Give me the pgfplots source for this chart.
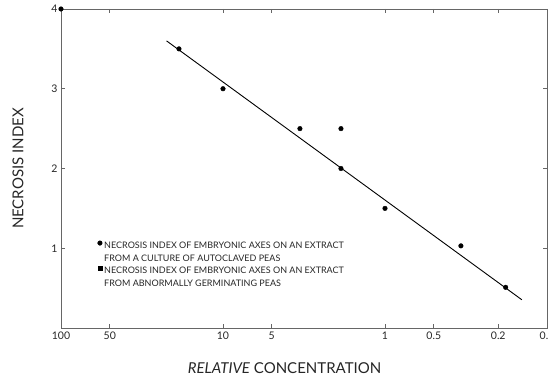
\documentclass[border=0pt]{standalone}
\usepackage{pgfplots}
\pgfplotsset{compat=1.18}
\usepackage{fontspec}
\setmainfont{Lato}
\begin{document}
\begin{tikzpicture}
\begin{axis}[
  scale only axis, width=486pt, height=319pt,
  xmode=log, x dir=reverse, xmin=0.1, xmax=100, ymin=0, ymax=4,
  xtick={100,50,10,5,1,0.5,0.2,0.1},
  xticklabels={100,50,10,5,1,0.5,0.2,0.1},
  xminorticks=false,
  ytick={1,2,3,4}, yticklabels={1,2,3,4},
  tick align=inside, major tick length=4pt,
  axis line style={black!60, line width=0.6pt},
  tick style={black!60, line width=0.6pt},
  ticklabel style={font=\fontsize{10.5}{12}\selectfont, text=black!85},
  /pgf/number format/assume math mode=true,
  xlabel={\textit{RELATIVE} CONCENTRATION}, ylabel={NECROSIS INDEX},
  label style={font=\fontsize{15}{17}\selectfont, text=black!85},
  xlabel style={at={(axis description cs:0.46,-0.125)}, anchor=center},
  ylabel style={at={(axis description cs:-0.0885,0.50)}, anchor=center},
  clip=false,
  legend style={at={(0.075,0.283)}, anchor=north west, draw=none, fill=none,
    font=\fontsize{9}{12.5}\selectfont, text=black!85, row sep=5pt, inner sep=0pt,
    cells={anchor=west}},
  legend image code/.code={\path (0pt,-8pt) (0pt,8pt);
     \draw[#1, yshift=5pt] plot coordinates {(0pt,0pt)};},
]
\addplot[only marks, mark=*, mark size=2.3pt, black] coordinates {
  (18.7,3.5) (10,3) (3.35,2.5) (1.87,2.5) (1.87,2) (1,1.5) (0.34,1.03) (0.18,0.51)};
\addlegendentry{\begin{tabular}{@{}l@{}}NECROSIS INDEX OF EMBRYONIC AXES ON AN EXTRACT\\FROM A CULTURE OF AUTOCLAVED PEAS\end{tabular}}
\addlegendimage{only marks, mark=square*, mark size=1.9pt, black}
\addlegendentry{\begin{tabular}{@{}l@{}}NECROSIS INDEX OF EMBRYONIC AXES ON AN EXTRACT\\FROM ABNORMALLY GERMINATING PEAS\end{tabular}}
\addplot[only marks, mark=*, mark size=2.3pt, black, forget plot] coordinates {(100,4)};
\addplot[black, line width=0.9pt, forget plot] coordinates {(22.3,3.60) (0.143,0.354)};
\end{axis}
\pgfresetboundingbox
\path ([shift={(-61pt,-53pt)}]current axis.south west) rectangle ([shift={(2pt,9pt)}]current axis.north east);
\end{tikzpicture}
\end{document}
